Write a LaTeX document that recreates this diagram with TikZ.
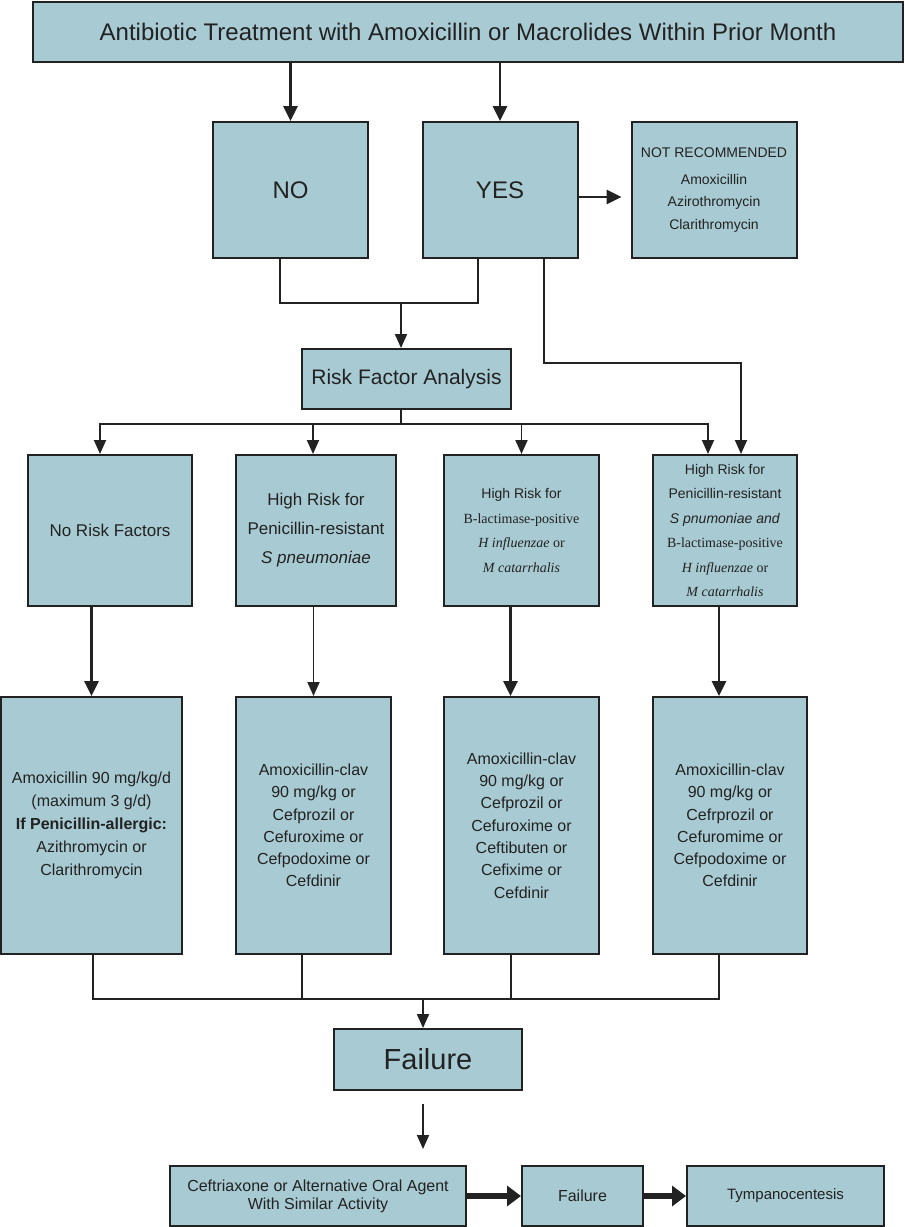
\documentclass[tikz,border=0pt]{standalone}
\usepackage{fontspec}
\setmainfont{Liberation Sans}
\newfontfamily\serifrm{Liberation Serif}
\usetikzlibrary{calc, arrows.meta}
\definecolor{boxfill}{RGB}{168,202,211}
\definecolor{ink}{RGB}{34,34,34}

\begin{document}
\begin{tikzpicture}[x=1pt, y=-1pt,
  box/.style={draw=ink, line width=2pt, fill=boxfill, text=ink, align=center, inner sep=0pt},
  link/.style={draw=ink, line width=1.9pt},
  arr/.style={link, -{Triangle[width=12pt,length=14pt]}},
  thickarr/.style={arr, line width=2.8pt, -{Triangle[width=14pt,length=15pt]}},
  bigarr/.style={draw=ink, line width=5.5pt, -{Triangle[width=20pt,length=14pt]}}]
  \useasboundingbox (0,0) rectangle (905,1227);
  % question and answers
  \node[box, minimum width=870pt, minimum height=60pt, font=\fontsize{24}{28}\selectfont] (top) at (468,32)
    {Antibiotic Treatment with Amoxicillin or Macrolides Within Prior Month};
  \node[box, minimum width=155pt, minimum height=136pt, font=\fontsize{24}{28}\selectfont] (no) at (290.5,190) {NO};
  \node[box, minimum width=155pt, minimum height=136pt, font=\fontsize{24}{28}\selectfont] (yes) at (500,190) {YES};
  \node[box, minimum width=165pt, minimum height=136pt, font=\fontsize{14}{22.5}\selectfont] (notrec) at (714,190)
    {NOT RECOMMENDED\\[4pt]Amoxicillin\\Azirothromycin\\Clarithromycin};
  \node[box, minimum width=209pt, minimum height=60pt, font=\fontsize{21}{25}\selectfont] (risk) at (406.5,379) {Risk Factor Analysis};
  % risk groups
  \node[box, minimum width=164pt, minimum height=151pt, font=\fontsize{17}{29}\selectfont] (rf1) at (110,530.5) {No Risk Factors};
  \node[box, minimum width=160pt, minimum height=151pt, font=\fontsize{17}{29}\selectfont] (rf2) at (316,530.5)
    {High Risk for\\Penicillin-resistant\\\textit{S pneumoniae}};
  \node[box, minimum width=155pt, minimum height=151pt, font=\fontsize{14}{24.4}\selectfont] (rf3) at (521.5,530.5)
    {High Risk for\\{\serifrm B-lactimase-positive}\\{\serifrm\textit{H influenzae} or}\\{\serifrm\textit{M catarrhalis}}};
  \node[box, minimum width=144pt, minimum height=151pt, font=\fontsize{14}{24.4}\selectfont] (rf4) at (725,530.5)
    {High Risk for\\Penicillin-resistant\\\textit{S pnumoniae and}\\{\serifrm B-lactimase-positive}\\{\serifrm\textit{H influenzae} or}\\{\serifrm\textit{M catarrhalis}}};
  % treatments
  \node[box, minimum width=181pt, minimum height=257pt, font=\fontsize{16}{23}\selectfont] (tx1) at (91.5,825.5)
    {Amoxicillin 90 mg/kg/d\\(maximum 3 g/d)\\\textbf{If Penicillin-allergic:}\\Azithromycin or\\Clarithromycin};
  \node[box, minimum width=155pt, minimum height=257pt, font=\fontsize{16}{22.3}\selectfont] (tx2) at (313.5,825.5)
    {Amoxicillin-clav\\90 mg/kg or\\Cefprozil or\\Cefuroxime or\\Cefpodoxime or\\Cefdinir};
  \node[box, minimum width=155pt, minimum height=257pt, font=\fontsize{16}{22.3}\selectfont] (tx3) at (521.5,825.5)
    {Amoxicillin-clav\\90 mg/kg or\\Cefprozil or\\Cefuroxime or\\Ceftibuten or\\Cefixime or\\Cefdinir};
  \node[box, minimum width=154pt, minimum height=257pt, font=\fontsize{16}{22.3}\selectfont] (tx4) at (730,825.5)
    {Amoxicillin-clav\\90 mg/kg or\\Cefrprozil or\\Cefuromime or\\Cefpodoxime or\\Cefdinir};
  % failure path
  \node[box, minimum width=188pt, minimum height=61pt, font=\fontsize{29}{32}\selectfont] (fail) at (428,1059.5) {Failure};
  \node[box, minimum width=296pt, minimum height=60pt, font=\fontsize{16}{18}\selectfont] (alt) at (318,1196)
    {Ceftriaxone or Alternative Oral Agent\\With Similar Activity};
  \node[box, minimum width=121pt, minimum height=60pt, font=\fontsize{16}{18}\selectfont] (fail2) at (582.5,1196) {Failure};
  \node[box, minimum width=197pt, minimum height=60pt, font=\fontsize{15}{18}\selectfont] (tap) at (785.5,1196) {Tympanocentesis};

  % connectors
  \draw[thickarr] (top.south -| no.north) -- (no.north);
  \draw[thickarr] (top.south -| yes.north) -- (yes.north);
  \draw[thickarr, shorten >=9pt] ([yshift=-7pt]yes.east) -- ([yshift=-7pt]notrec.west);
  \coordinate (merge) at (401,303);
  \draw[link] ([xshift=-10.5pt]no.south) |- (merge) -| ([xshift=-22pt]yes.south);
  \draw[arr] (merge) -- (merge |- risk.north);
  \coordinate (bypass) at (741,363);
  \draw[arr] ([xshift=44pt]yes.south) |- (bypass) -- (bypass |- rf4.north);
  \coordinate (split) at (401,424);
  \draw[link] (split |- risk.south) -- (split);
  \foreach \n/\dx in {rf1/-10, rf2/-3, rf3/0, rf4/-17}
    \draw[arr] (split) -| ([xshift=\dx pt]\n.north);
  \draw[thickarr] (rf1.south -| tx1.north) -- (tx1.north);
  \draw[arr] (rf2.south -| tx2.north) -- (tx2.north);
  \draw[thickarr] ([xshift=-11pt]rf3.south -| tx3.north) -- ([xshift=-11pt]tx3.north);
  \draw[thickarr] ([xshift=-11pt]rf4.south -| tx4.north) -- ([xshift=-11pt]tx4.north);
  \coordinate (join) at (423,999);
  \foreach \n/\dx in {tx1/1.5, tx2/-11.5, tx3/-10.5, tx4/-11}
    \draw[link] ([xshift=\dx pt]\n.south) |- (join);
  \draw[arr] (join) -- (join |- fail.north);
  \draw[arr, shorten <=13pt, shorten >=16pt] (join |- fail.south) -- (join |- alt.north);
  \draw[bigarr] (alt) -- (fail2);
  \draw[bigarr] (fail2) -- (tap);
\end{tikzpicture}
\end{document}
